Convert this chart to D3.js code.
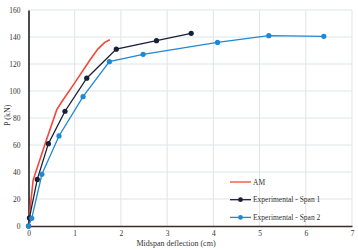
<!DOCTYPE html>
<html>
<head>
<meta charset="utf-8">
<script src="https://cdn.jsdelivr.net/npm/d3@7"></script>
<style>
  body { margin: 0; background: #fff; }
  text { font-family: "Liberation Serif", "DejaVu Serif", serif; fill: #333; }
</style>
</head>
<body>
<svg width="358" height="250"></svg>
<script>
// deflection (cm), load (kN)
const amData = [[0,0],[0.02,8],[0.1,34],[0.36,61],[0.61,86],[0.72,92],[1.0,106],[1.33,123],[1.5,131],[1.65,136],[1.76,138]];
const span1Data = [[0,0],[0.02,6],[0.19,34.5],[0.43,61],[0.79,85],[1.26,109.5],[1.9,131],[2.77,137.3],[3.52,142.7]];
const span2Data = [[0,0],[0.07,5.7],[0.29,38.3],[0.66,66.7],[1.18,95.8],[1.75,121.7],[2.48,127.2],[4.09,136],[5.2,141],[6.39,140.5]];
const xTicks = [0,1,2,3,4,5,6,7];
const yTicks = [0,20,40,60,80,100,120,140,160];
const seriesNames = ["AM", "Experimental - Span 1", "Experimental - Span 2"];
const seriesColors = ["#f4473a", "#172038", "#1e88d4"];

const svg = d3.select("svg");
const margin = {left: 28.5, right: 6, top: 10, bottom: 24};
const width = +svg.attr("width");
const height = +svg.attr("height");

const x = d3.scaleLinear().domain([0, 7]).range([margin.left, width - margin.right]);
const y = d3.scaleLinear().domain([0, 160]).range([height - margin.bottom, margin.top]);

// grid
svg.append("g")
  .selectAll("line")
  .data(xTicks.slice(1))
  .join("line")
  .attr("x1", d => x(d)).attr("x2", d => x(d))
  .attr("y1", y(0)).attr("y2", y(160))
  .attr("stroke", "#dfe4e8").attr("stroke-width", 1);
svg.append("g")
  .selectAll("line")
  .data(yTicks.slice(1))
  .join("line")
  .attr("x1", x(0)).attr("x2", x(7))
  .attr("y1", d => y(d)).attr("y2", d => y(d))
  .attr("stroke", "#dfe4e8").attr("stroke-width", 1);

// axes
const xAxis = d3.axisBottom(x).tickValues(xTicks).tickFormat(d3.format("d")).tickSize(0).tickPadding(5);
const yAxis = d3.axisLeft(y).tickValues(yTicks).tickFormat(d3.format("d")).tickSize(0).tickPadding(8);

const xg = svg.append("g").attr("transform", `translate(0,${y(0)})`).call(xAxis);
xg.select(".domain").attr("stroke", "#3b2b2b").attr("stroke-width", 1.5);
xg.selectAll("text").style("font-size", "7.5px").attr("fill", "#444");

const yg = svg.append("g").attr("transform", `translate(${x(0)},0)`).call(yAxis);
yg.select(".domain").attr("stroke", "#111").attr("stroke-width", 1.5);
yg.selectAll("text").style("font-size", "7.5px").attr("fill", "#444");

// axis titles
svg.append("text")
  .attr("x", 176).attr("y", 246)
  .attr("text-anchor", "middle")
  .style("font-size", "8px")
  .text("Midspan deflection (cm)");
svg.append("text")
  .attr("transform", `translate(10,${y(82)}) rotate(-90)`)
  .attr("text-anchor", "middle")
  .style("font-size", "8px")
  .text("P (kN)");

// series
const line = d3.line().x(d => x(d[0])).y(d => y(d[1]));
const allData = [amData, span1Data, span2Data];

allData.forEach((data, i) => {
  svg.append("path")
    .datum(data)
    .attr("fill", "none")
    .attr("stroke", seriesColors[i])
    .attr("stroke-width", i == 0 ? 1.6 : 1.3)
    .attr("d", line);
  if (i > 0) {
    svg.append("g")
      .selectAll("circle")
      .data(data)
      .join("circle")
      .attr("cx", d => x(d[0]))
      .attr("cy", d => y(d[1]))
      .attr("r", 2.6)
      .attr("fill", seriesColors[i]);
  }
});

// legend
const legend = svg.append("g").attr("transform", "translate(230,182)");
seriesNames.forEach((name, i) => {
  const row = legend.append("g").attr("transform", `translate(0,${i * 17.7})`);
  row.append("line")
    .attr("x1", 0).attr("x2", 21)
    .attr("stroke", seriesColors[i]).attr("stroke-width", 1.3);
  if (i > 0) {
    row.append("circle").attr("cx", 10.5).attr("r", 2.4).attr("fill", seriesColors[i]);
  }
  row.append("text")
    .attr("x", 23).attr("y", 2.5)
    .style("font-size", "7.5px")
    .text(name);
});
</script>
</body>
</html>
